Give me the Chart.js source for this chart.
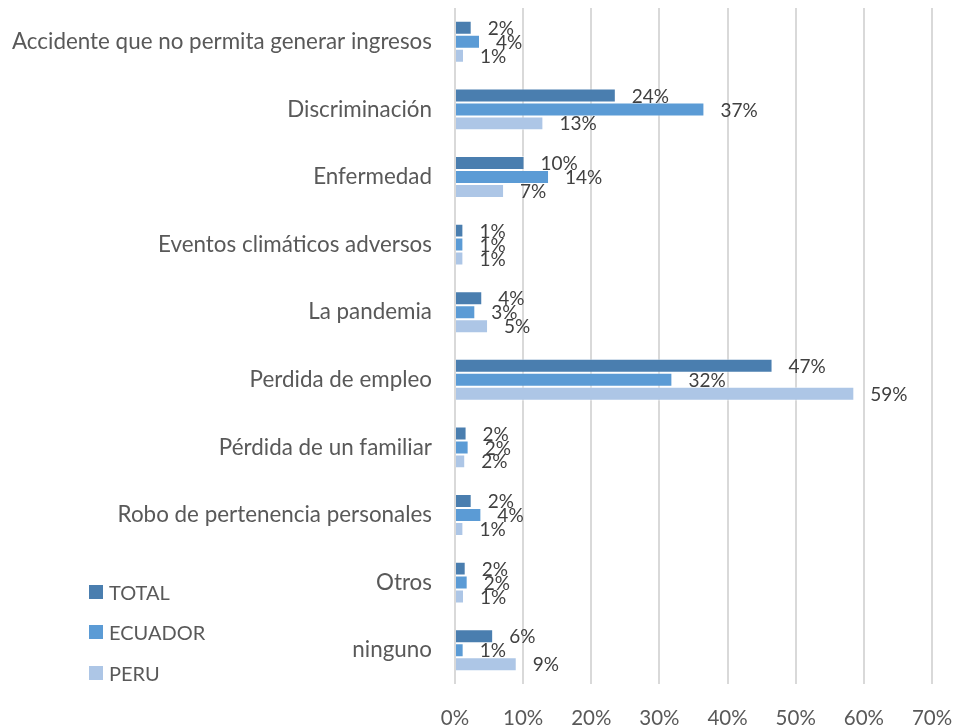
<!DOCTYPE html>
<html>
<head>
<meta charset="utf-8">
<script src="https://cdn.jsdelivr.net/npm/chart.js@4"></script>
<style>
  html, body { margin: 0; padding: 0; background: #fff; }
  #wrap { position: relative; width: 958px; height: 727px; }
  #legend { position: absolute; left: 89px; top: 0; font-family: Lato, "Open Sans", sans-serif; font-size: 20px; color: #595959; }
  .li { position: absolute; left: 0; white-space: nowrap; display: flex; align-items: center; height: 20px; }
  .sw { width: 14px; height: 14px; margin-right: 6px; display: inline-block; }
</style>
</head>
<body>
<div id="wrap">
  <canvas id="c" width="958" height="727"></canvas>
  <div id="legend"></div>
</div>
<script>
const categories = [
  "Accidente que no permita generar ingresos",
  "Discriminación",
  "Enfermedad",
  "Eventos climáticos adversos",
  "La pandemia",
  "Perdida de empleo",
  "Pérdida de un familiar",
  "Robo de pertenencia personales",
  "Otros",
  "ninguno"
];
const seriesNames = ["TOTAL", "ECUADOR", "PERU"];
const totalValues   = [2.45, 23.6, 10.2, 1.23, 4.0, 46.6, 1.7, 2.45, 1.57, 5.6];
const ecuadorValues = [3.67, 36.6, 13.8, 1.23, 2.98, 31.9, 2.0, 3.87, 1.86, 1.27];
const peruValues    = [1.32, 12.97, 7.2, 1.23, 4.85, 58.6, 1.5, 1.23, 1.32, 9.06];
const xTicks = [0, 10, 20, 30, 40, 50, 60, 70];
const colors = ["#4a7eaf", "#5b9bd5", "#adc6e6"];

const FONT = 'Lato, "Open Sans", sans-serif';

const labelPlugin = {
  id: 'barLabels',
  afterDatasetsDraw(chart) {
    const ctx = chart.ctx;
    ctx.save();
    ctx.font = '19px ' + FONT;
    ctx.fillStyle = '#404040';
    ctx.textBaseline = 'middle';
    ctx.textAlign = 'left';
    chart.data.datasets.forEach((ds, di) => {
      const meta = chart.getDatasetMeta(di);
      meta.data.forEach((bar, i) => {
        ctx.fillText(Math.round(ds.data[i]) + '%', bar.x + 16, bar.y + 1);
      });
    });
    ctx.restore();
  }
};

const datasets = [totalValues, ecuadorValues, peruValues].map((vals, i) => ({
  label: seriesNames[i],
  data: vals,
  backgroundColor: colors[i],
  borderColor: 'rgba(255,255,255,0.5)',
  borderWidth: 1,
  categoryPercentage: 0.62,
  barPercentage: 1.0
}));

new Chart(document.getElementById('c'), {
  type: 'bar',
  data: { labels: categories, datasets },
  options: {
    indexAxis: 'y',
    responsive: false,
    animation: false,
    layout: { padding: { left: 0, right: 26, top: 8, bottom: 0 } },
    plugins: { legend: { display: false }, tooltip: { enabled: false } },
    scales: {
      x: {
        min: 0, max: 70,
        afterBuildTicks(scale) { scale.ticks = xTicks.map(v => ({ value: v })); },
        afterFit(scale) { scale.height = 43; scale.paddingLeft = 0; scale.paddingRight = 0; },
        grid: { color: '#d9d9d9', lineWidth: 2, drawTicks: false },
        border: { display: false },
        ticks: {
          padding: 22,
          color: '#595959',
          font: { family: FONT, size: 20.5 },
          callback: v => v + '%'
        }
      },
      y: {
        afterFit(scale) { scale.width = 455; scale.paddingTop = 0; scale.paddingBottom = 0; },
        grid: { display: false, drawTicks: false },
        border: { display: false },
        ticks: {
          padding: 23,
          color: '#595959',
          font: { family: FONT, size: 22.4 }
        }
      }
    }
  },
  plugins: [labelPlugin]
});

const legendTops = [592, 632, 673];
const lg = document.getElementById('legend');
seriesNames.forEach((n, i) => {
  const d = document.createElement('div');
  d.className = 'li';
  d.style.top = (legendTops[i] - 10) + 'px';
  d.innerHTML = '<span class="sw" style="background:' + colors[i] + '"></span><span>' + n + '</span>';
  lg.appendChild(d);
});
</script>
</body>
</html>
